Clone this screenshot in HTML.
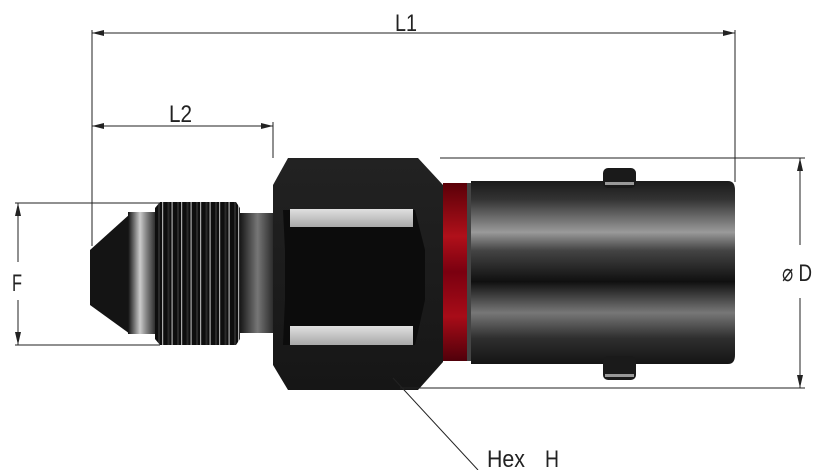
<!DOCTYPE html>
<html><head><meta charset="utf-8"><style>
html,body{margin:0;padding:0;background:#fff;}
svg{display:block;}
text{font-family:"Liberation Sans",sans-serif;fill:#222;}
</style></head><body>
<svg width="825" height="470" viewBox="0 0 825 470" xmlns="http://www.w3.org/2000/svg">
<defs>
<linearGradient id="cyl" x1="0" y1="0" x2="0" y2="1">
<stop offset="0" stop-color="#1a1a1a"/><stop offset="0.1" stop-color="#333"/>
<stop offset="0.28" stop-color="#9a9a9a"/><stop offset="0.38" stop-color="#444"/>
<stop offset="0.55" stop-color="#101010"/><stop offset="0.72" stop-color="#777"/>
<stop offset="0.86" stop-color="#2e2e2e"/><stop offset="1" stop-color="#151515"/>
</linearGradient>
<linearGradient id="red" x1="0" y1="0" x2="0" y2="1">
<stop offset="0" stop-color="#5a0008"/><stop offset="0.3" stop-color="#b0101a"/>
<stop offset="0.5" stop-color="#7a0010"/><stop offset="0.75" stop-color="#a80c18"/><stop offset="1" stop-color="#50000a"/>
</linearGradient>
<linearGradient id="ring" x1="0" y1="0" x2="1" y2="0">
<stop offset="0" stop-color="#111"/><stop offset="0.4" stop-color="#ccc"/><stop offset="0.6" stop-color="#888"/><stop offset="1" stop-color="#111"/>
</linearGradient>
<linearGradient id="neck" x1="0" y1="0" x2="1" y2="0">
<stop offset="0" stop-color="#222"/><stop offset="0.5" stop-color="#aaa"/><stop offset="1" stop-color="#333"/>
</linearGradient>
<linearGradient id="hexg" x1="0" y1="0" x2="0" y2="1">
<stop offset="0" stop-color="#222"/><stop offset="1" stop-color="#161616"/>
</linearGradient>
<linearGradient id="band" x1="0" y1="0" x2="0" y2="1">
<stop offset="0" stop-color="#e0e0e0"/><stop offset="1" stop-color="#a8a8a8"/>
</linearGradient>
<pattern id="thr" x="155" y="0" width="9.5" height="10" patternUnits="userSpaceOnUse">
<rect width="9.5" height="10" fill="#0e0e0e"/><rect x="7" width="1.2" height="10" fill="#aaa"/><rect x="3" width="2" height="10" fill="#2a2a2a"/>
</pattern>
</defs>

<polygon points="90,250 130,214 140,214 140,334 130,334 90,305" fill="#141414"/>
<rect x="128" y="212" width="30" height="122" fill="url(#ring)"/>
<polygon points="155,208 160,202 236,202 240,208 240,339 236,345 160,345 155,339" fill="url(#thr)"/>
<rect x="240" y="213" width="35" height="120" fill="url(#neck)"/>
<rect x="240" y="213" width="35" height="120" fill="#000" opacity="0.3"/>
<polygon points="288,158 418,158 443,185 443,362 418,390 288,390 273,365 273,185" fill="url(#hexg)"/>
<polygon points="283,210 415,210 425,250 425,300 415,345 283,345 285,300 285,250" fill="#0c0c0c"/>
<rect x="290" y="209" width="123" height="18" fill="url(#band)"/>
<rect x="290" y="326" width="123" height="19" fill="url(#band)"/>
<rect x="443" y="183" width="24" height="178" fill="url(#red)"/>
<rect x="467" y="183" width="5" height="178" fill="#444"/>
<path d="M471,181 L728,181 Q735,181 735,190 L735,355 Q735,364 728,364 L471,364 Z" fill="url(#cyl)"/>
<rect x="603" y="168" width="33" height="20" rx="5" fill="#1a1a1a"/>
<rect x="605" y="182" width="29" height="3" fill="#999"/>
<rect x="603" y="356" width="33" height="24" rx="5" fill="#1a1a1a"/>
<rect x="605" y="374" width="29" height="3" fill="#999"/>

<g stroke="#222" stroke-width="1" fill="none">
<line x1="92" y1="33" x2="735" y2="33"/>
<line x1="92" y1="30" x2="92" y2="246"/>
<line x1="735" y1="30" x2="735" y2="182"/>
<line x1="92" y1="126" x2="273" y2="126"/>
<line x1="273" y1="122" x2="273" y2="158"/>
<line x1="15" y1="203" x2="160" y2="203"/>
<line x1="15" y1="345" x2="160" y2="345"/>
<line x1="18" y1="203" x2="18" y2="262"/>
<line x1="18" y1="300" x2="18" y2="345"/>
<line x1="440" y1="158" x2="805" y2="158"/>
<line x1="400" y1="388" x2="805" y2="388"/>
<line x1="800" y1="158" x2="800" y2="245"/>
<line x1="800" y1="298" x2="800" y2="388"/>
<line x1="393" y1="378" x2="478" y2="470"/>
</g>
<g fill="#222">
<polygon points="92,33 104,30 104,36"/><polygon points="735,33 723,30 723,36"/>
<polygon points="92,126 104,123 104,129"/><polygon points="273,126 261,123 261,129"/>
<polygon points="18,203 15,216 21,216"/><polygon points="18,345 15,332 21,332"/>
<polygon points="800,158 797,171 803,171"/><polygon points="800,388 797,375 803,375"/>
</g>
<g font-size="24">
<text x="395" y="31" textLength="22" lengthAdjust="spacingAndGlyphs">L1</text>
<text x="169" y="122" textLength="23" lengthAdjust="spacingAndGlyphs">L2</text>
<text x="12" y="291" textLength="10" lengthAdjust="spacingAndGlyphs">F</text>
<text x="782" y="281" textLength="30" lengthAdjust="spacingAndGlyphs">⌀ D</text>
<text x="487" y="467" textLength="38" lengthAdjust="spacingAndGlyphs">Hex</text>
<text x="545" y="467" textLength="14" lengthAdjust="spacingAndGlyphs">H</text>
</g>
</svg>
</body></html>
